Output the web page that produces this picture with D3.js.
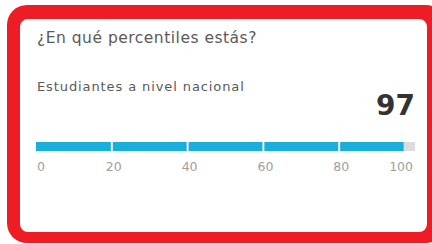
<!DOCTYPE html>
<html>
<head>
<meta charset="utf-8">
<script src="https://cdn.jsdelivr.net/npm/d3@7"></script>
<style>
  body { margin: 0; background: #fff; }
  text { font-family: "DejaVu Sans", sans-serif; }
</style>
</head>
<body>
<div id="chart"></div>
<script>
var title = "¿En qué percentiles estás?";
var subtitle = "Estudiantes a nivel nacional";
var percentile = 97;
var segments = [0, 20, 40, 60, 80];
var tickValues = [0, 20, 40, 60, 80, 100];

var width = 432, height = 244;

var svg = d3.select("#chart")
	.append("svg")
	.attr("width", width)
	.attr("height", height);

// red frame + white card
svg.append("rect")
	.attr("x", 7).attr("y", 5)
	.attr("width", 432 - 7 + 14).attr("height", 243 - 5)
	.attr("rx", 20)
	.attr("fill", "#ee1c25");
svg.append("rect")
	.attr("x", 20).attr("y", 19)
	.attr("width", 407).attr("height", 213)
	.attr("rx", 8)
	.attr("fill", "#fff");

svg.append("text")
	.attr("x", 37).attr("y", 43)
	.attr("font-size", 15.5)
	.attr("letter-spacing", 0.5)
	.attr("fill", "#5a5a5a")
	.text(title);

svg.append("text")
	.attr("x", 37).attr("y", 91)
	.attr("font-size", 13)
	.attr("letter-spacing", 0.9)
	.attr("fill", "#5a5a5a")
	.text(subtitle);

svg.append("text")
	.attr("x", 415).attr("y", 115)
	.attr("text-anchor", "end")
	.attr("font-size", 28)
	.attr("font-weight", "bold")
	.attr("fill", "#333")
	.text(percentile);

var x = d3.scaleLinear().domain([0, 100]).range([36, 415]);
var barY = 142, barH = 9;

// gray background per segment, then blue fill up to the percentile
var seg = svg.selectAll("g.seg")
	.data(segments)
	.enter()
	.append("g")
	.attr("class", "seg");

seg.append("rect")
	.attr("x", function(d, i) { return x(d) + (i == 0 ? 0 : 1); })
	.attr("y", barY)
	.attr("width", function(d, i) {
		var x0 = x(d) + (i == 0 ? 0 : 1);
		var x1 = x(d + 20) - (i == segments.length - 1 ? 0 : 1);
		return x1 - x0;
	})
	.attr("height", barH)
	.attr("fill", "#dcdcdc");

seg.append("rect")
	.attr("x", function(d, i) { return x(d) + (i == 0 ? 0 : 1); })
	.attr("y", barY)
	.attr("width", function(d, i) {
		var x0 = x(d) + (i == 0 ? 0 : 1);
		var end = Math.min(d + 20, percentile);
		var x1 = x(end) - (end == d + 20 && i < segments.length - 1 ? 1 : 0);
		return Math.max(0, x1 - x0);
	})
	.attr("height", barH)
	.attr("fill", "#1aaedc");

svg.selectAll("text.tick")
	.data(tickValues)
	.enter()
	.append("text")
	.attr("class", "tick")
	.attr("x", function(d, i) {
		if (i == 0) return 37;
		if (i == tickValues.length - 1) return 413;
		return x(d) + 2;
	})
	.attr("y", 171)
	.attr("text-anchor", function(d, i) {
		if (i == 0) return "start";
		if (i == tickValues.length - 1) return "end";
		return "middle";
	})
	.attr("font-size", 12.5)
	.attr("fill", "#a0a0a0")
	.text(function(d) { return d; });
</script>
</body>
</html>
